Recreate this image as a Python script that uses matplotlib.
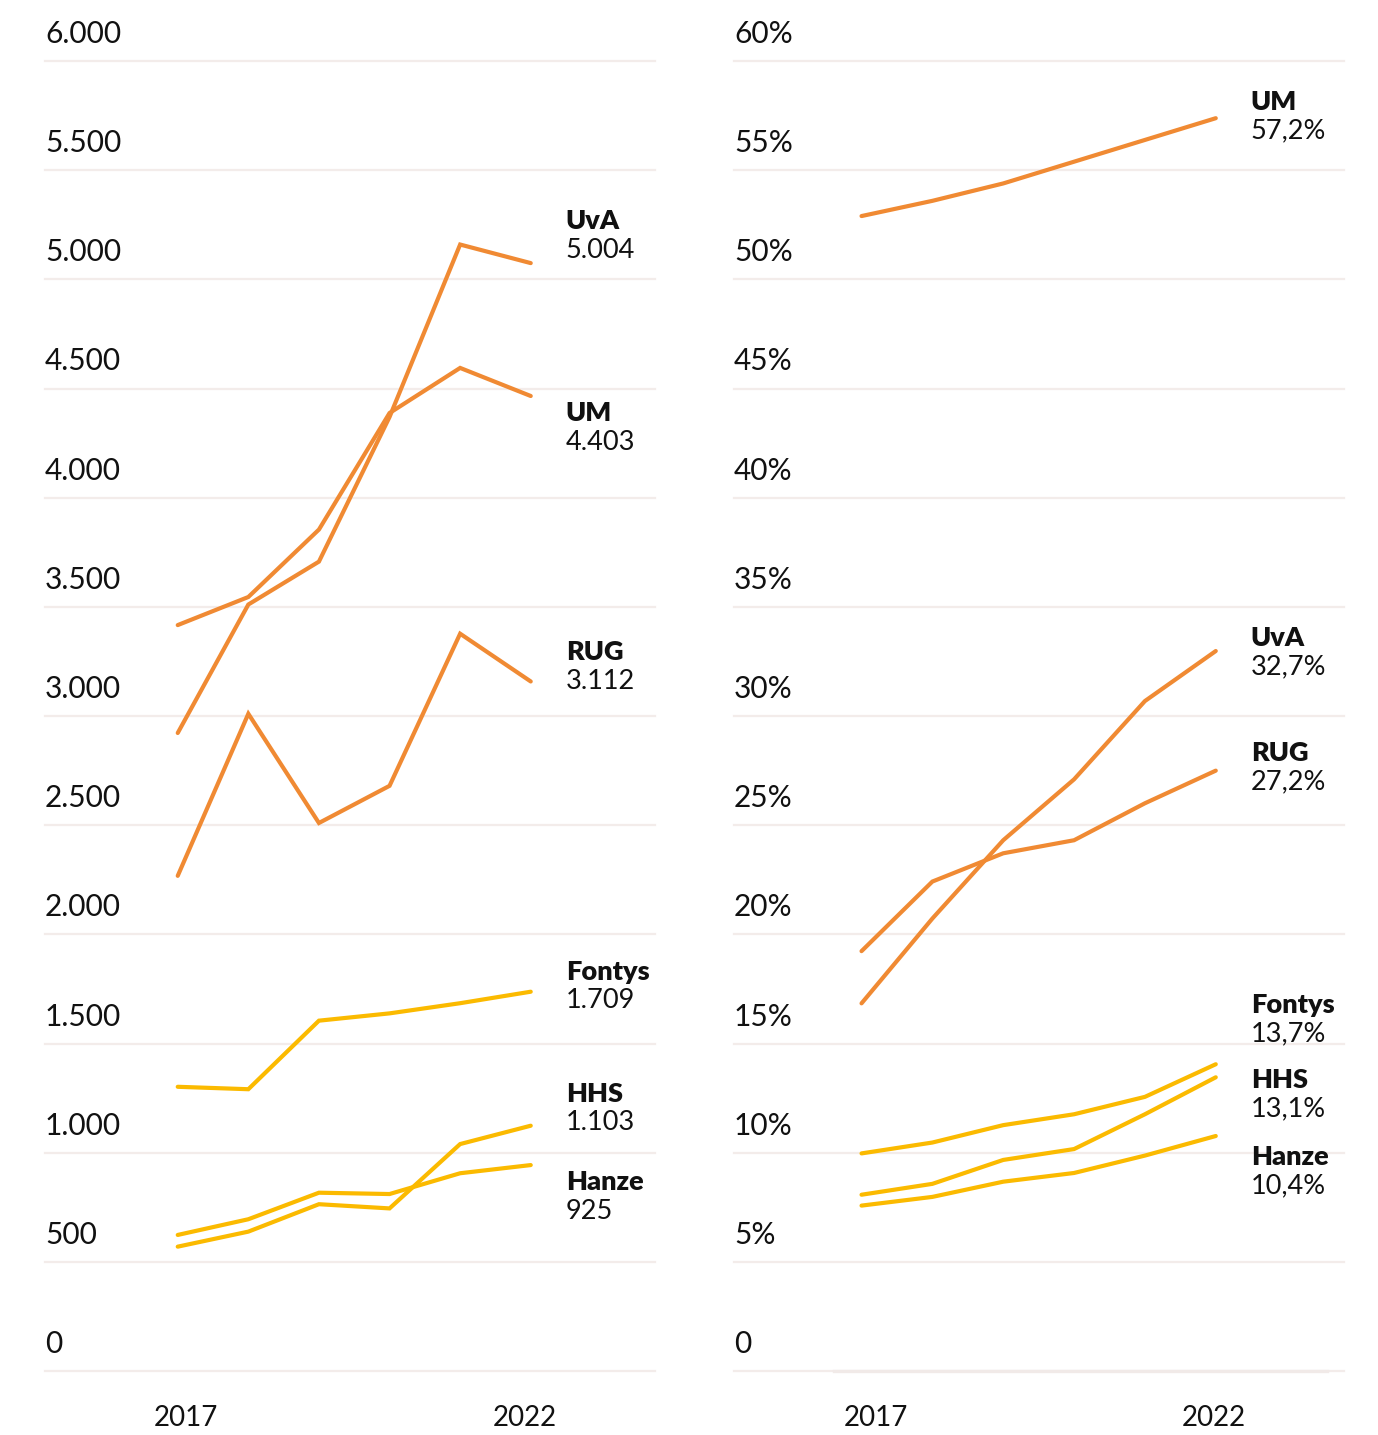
import matplotlib
matplotlib.use('Agg')
import matplotlib.pyplot as plt

plt.rcParams['font.family'] = ['Lato', 'DejaVu Sans']

years = [2017, 2018, 2019, 2020, 2021, 2022]

# ---- left panel: absolute numbers ----
abs_names = ['UvA', 'UM', 'RUG', 'Fontys', 'HHS', 'Hanze']
uva_abs = [2879, 3460, 3654, 4308, 5088, 5004]
um_abs = [3367, 3494, 3799, 4326, 4530, 4403]
rug_abs = [2233, 2966, 2472, 2640, 3328, 3112]
fontys_abs = [1279, 1268, 1578, 1611, 1657, 1709]
hhs_abs = [556, 624, 748, 729, 1020, 1103]
hanze_abs = [609, 680, 800, 794, 888, 925]
abs_end_labels = ['5.004', '4.403', '3.112', '1.709', '1.103', '925']

# ---- right panel: percentages ----
pct_names = ['UM', 'UvA', 'RUG', 'Fontys', 'HHS', 'Hanze']
um_pct = [52.7, 53.4, 54.2, 55.2, 56.2, 57.2]
uva_pct = [16.5, 20.4, 24.0, 26.8, 30.4, 32.7]
rug_pct = [18.9, 22.1, 23.4, 24.0, 25.7, 27.2]
fontys_pct = [9.6, 10.1, 10.9, 11.4, 12.2, 13.7]
hhs_pct = [7.7, 8.2, 9.3, 9.8, 11.4, 13.1]
hanze_pct = [7.2, 7.6, 8.3, 8.7, 9.5, 10.4]
pct_end_labels = ['57,2%', '32,7%', '27,2%', '13,7%', '13,1%', '10,4%']

abs_ticks = [0, 500, 1000, 1500, 2000, 2500, 3000, 3500, 4000, 4500, 5000, 5500, 6000]
abs_tick_labels = ['0', '500', '1.000', '1.500', '2.000', '2.500', '3.000',
                   '3.500', '4.000', '4.500', '5.000', '5.500', '6.000']
pct_ticks = [0, 5, 10, 15, 20, 25, 30, 35, 40, 45, 50, 55, 60]
pct_tick_labels = ['0', '5%', '10%', '15%', '20%', '25%', '30%', '35%',
                   '40%', '45%', '50%', '55%', '60%']
x_tick_years = [2017, 2022]

ORANGE = '#F08A33'
YELLOW = '#FBBA00'
GRID = '#F3ECEA'
TEXT = '#111111'

W, H = 1378, 1435
fig = plt.figure(figsize=(W / 100, H / 100), dpi=100)

def make_panel(left_px, grid_xlim, line_xlim, grid_ylim, line_ylim,
               ticks, tick_labels, series, colors, names, end_labels,
               name_offsets, axis_seg=None):
    rect = [left_px / W, (H - 1371) / H, 610 / W, 1310 / H]
    ax = fig.add_axes(rect)
    ax.set_xlim(*grid_xlim)
    ax.set_ylim(*grid_ylim)
    ax.axis('off')
    for t, lab in zip(ticks, tick_labels):
        ax.axhline(t, color=GRID, lw=1.6, clip_on=False, zorder=1)
        ax.annotate(lab, xy=(0, t), xycoords=('axes fraction', 'data'),
                    xytext=(0, 18), textcoords='offset pixels',
                    ha='left', va='baseline', fontsize=21.5, color=TEXT)
    if axis_seg is not None:
        ax.axhline(0, xmin=axis_seg[0], xmax=axis_seg[1], color='#F1EAE8',
                   lw=2.4, clip_on=False, zorder=1)
    for yr in x_tick_years:
        ax.annotate(str(yr), xy=(yr, grid_ylim[0]), xycoords='data',
                    xytext=(0, -47), textcoords='offset pixels',
                    ha='center', va='center', fontsize=20, color=TEXT,
                    annotation_clip=False)

    lax = fig.add_axes(rect)
    lax.set_xlim(*line_xlim)
    lax.set_ylim(*line_ylim)
    lax.axis('off')
    lax.patch.set_alpha(0)
    for vals, c, nm, el, off in zip(series, colors, names, end_labels, name_offsets):
        lax.plot(years, vals, color=c, lw=3.0, solid_capstyle='round',
                 solid_joinstyle='miter', clip_on=False, zorder=3)
        lax.annotate(nm, xy=(years[-1], vals[-1]), xytext=(35, off),
                     textcoords='offset pixels', ha='left', va='center',
                     fontsize=19.5, fontweight='heavy', color=TEXT,
                     annotation_clip=False)
        lax.annotate(el, xy=(years[-1], vals[-1]), xytext=(35, off - 29),
                     textcoords='offset pixels', ha='left', va='center',
                     fontsize=19.5, color=TEXT, annotation_clip=False)
    return ax, lax

make_panel(45, (2014.92, 2023.92), (2015.12, 2023.76), (0, 6000), (-6.3, 5918),
           abs_ticks, abs_tick_labels,
           [uva_abs, um_abs, rug_abs, fontys_abs, hhs_abs, hanze_abs],
           [ORANGE, ORANGE, ORANGE, YELLOW, YELLOW, YELLOW],
           abs_names, abs_end_labels,
           [42, -17, 29, 20, 32, -17])

make_panel(734, (2014.90, 2023.92), (2015.20, 2023.81), (0, 60), (-0.405, 59.83),
           pct_ticks, pct_tick_labels,
           [um_pct, uva_pct, rug_pct, fontys_pct, hhs_pct, hanze_pct],
           [ORANGE, ORANGE, ORANGE, YELLOW, YELLOW, YELLOW],
           pct_names, pct_end_labels,
           [16, 13, 18, 59, -3, -21], axis_seg=(0.164, 0.972))

fig.savefig('out.png', dpi=100)
